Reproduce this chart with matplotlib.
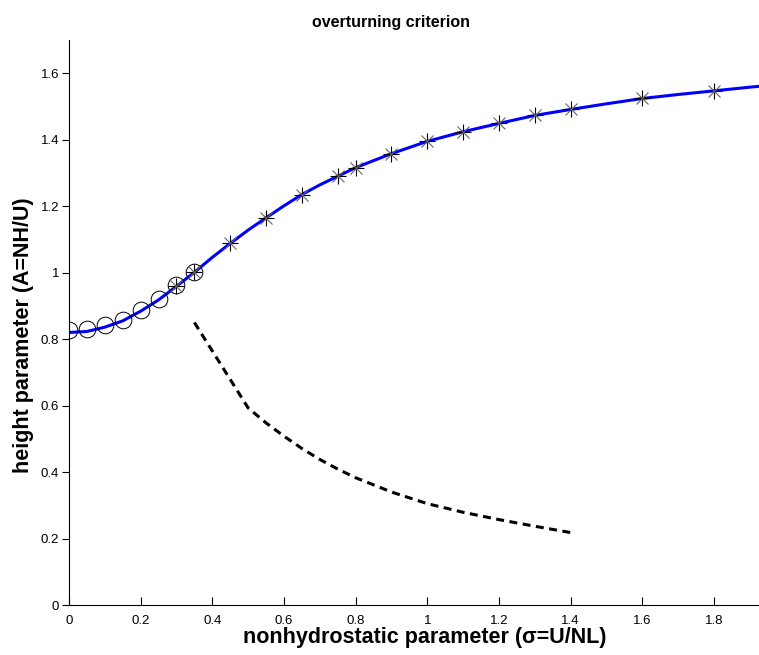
import numpy as np
import matplotlib
matplotlib.use('Agg')
import matplotlib.pyplot as plt
from matplotlib.ticker import FuncFormatter

# circles: hydrostatic-ish branch
circ_x = [0.0, 0.05, 0.1, 0.15, 0.2, 0.25, 0.3, 0.35]
circ_y = [0.826, 0.829, 0.842, 0.859, 0.889, 0.921, 0.964, 1.002]

# stars: nonhydrostatic branch
star_x = [0.3, 0.35, 0.45, 0.55, 0.65, 0.75, 0.8, 0.9, 1.0, 1.1, 1.2, 1.3, 1.4, 1.6, 1.8]
star_y = [0.960, 1.001, 1.088, 1.165, 1.235, 1.290, 1.316, 1.358, 1.395, 1.424,
          1.449, 1.473, 1.491, 1.524, 1.547]

# smooth blue curve
line_x = [0.0, 0.05, 0.1, 0.15, 0.2, 0.25, 0.3, 0.35, 0.4, 0.45, 0.5, 0.55, 0.6, 0.65,
          0.7, 0.75, 0.8, 0.9, 1.0, 1.1, 1.2, 1.3, 1.4, 1.5, 1.6, 1.7, 1.8, 1.9, 1.95]
line_y = [0.820, 0.823, 0.836, 0.855, 0.884, 0.918, 0.959, 1.001, 1.046, 1.088, 1.128,
          1.165, 1.201, 1.235, 1.264, 1.290, 1.316, 1.358, 1.395, 1.424, 1.449, 1.473,
          1.491, 1.508, 1.524, 1.536, 1.547, 1.558, 1.563]

# dashed curve
dash_x = [0.35, 0.5, 0.55, 0.6, 0.65, 0.7, 0.75, 0.8, 0.9, 1.0, 1.1, 1.2, 1.3, 1.4]
dash_y = [0.850, 0.593, 0.548, 0.508, 0.471, 0.438, 0.409, 0.383, 0.340, 0.305,
          0.279, 0.257, 0.237, 0.218]

plt.rcParams['font.family'] = ['Liberation Sans', 'DejaVu Sans']

fig = plt.figure(figsize=(7.59, 6.55), dpi=100)
ax = fig.add_axes([69/759, 1 - 605/655, 1 - 69/759, (605 - 40)/655])

ax.plot(line_x, line_y, color='#0000ff', lw=2.2, zorder=2)
ax.plot(dash_x, dash_y, color='black', lw=2.2, ls=(0, (2.6, 1.8)), zorder=2)
ax.plot(circ_x, circ_y, ls='none', marker='o', ms=12, mfc='none', mec='black',
        mew=0.7, zorder=3)
ax.plot(star_x, star_y, ls='none', marker='+', ms=11, mec='black', mew=0.8, zorder=3)
ax.plot(star_x, star_y, ls='none', marker='x', ms=8, mec='0.4', mew=0.8, zorder=3)

ax.set_xlim(0, 1.926)
ax.set_ylim(0, 1.7)
ax.set_xticks(np.arange(0, 1.81, 0.2))
ax.set_yticks(np.arange(0, 1.61, 0.2))
fmt = FuncFormatter(lambda v, p: '%g' % round(v, 2))
ax.xaxis.set_major_formatter(fmt)
ax.yaxis.set_major_formatter(fmt)

ax.spines['top'].set_visible(False)
ax.spines['right'].set_visible(False)
ax.spines['left'].set_linewidth(0.8)
ax.spines['bottom'].set_linewidth(0.8)
ax.tick_params(axis='x', direction='in', length=6, width=0.8, labelsize=9.5, pad=7)
ax.tick_params(axis='y', direction='out', length=5, width=0.8, labelsize=9.5, pad=2)

fig.text(391/759, 1 - 22/655, 'overturning criterion', ha='center', va='center',
         fontsize=11.5, fontweight='bold')
fig.text(425/759, 1 - 638/655, 'nonhydrostatic parameter (σ=U/NL)', ha='center',
         va='center', fontsize=15.5, fontweight='bold')
fig.text(24/759, 1 - 335/655, 'height parameter (A=NH/U)', ha='center', va='center',
         rotation=90, fontsize=15.5, fontweight='bold')

fig.savefig('out.png', dpi=100)
plt.close(fig)
